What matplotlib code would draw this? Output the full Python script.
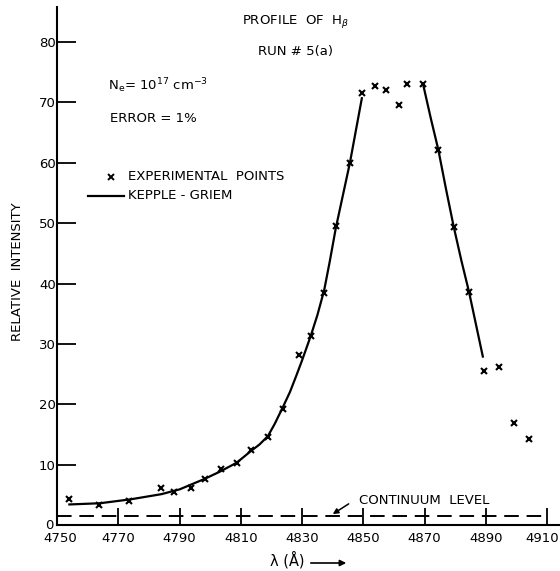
import matplotlib
matplotlib.use("Agg")
import matplotlib.pyplot as plt
from matplotlib.lines import Line2D
from matplotlib.transforms import ScaledTranslation

# ---- data ----
exp_wavelength = [4753.9, 4763.6, 4773.6, 4783.8, 4788.3, 4793.6, 4798.4, 4803.4,
                  4808.6, 4813.4, 4818.8, 4823.6, 4828.9, 4832.8, 4837.2, 4841.0,
                  4845.6, 4849.4, 4853.7, 4857.5, 4861.6, 4864.3, 4869.5, 4874.5,
                  4879.5, 4884.5, 4889.4, 4894.3, 4899.2, 4904.1]
exp_intensity = [4.25, 3.3, 4.0, 6.1, 5.5, 6.2, 7.6, 9.3,
                 10.3, 12.4, 14.5, 19.2, 28.1, 31.3, 38.5, 49.6,
                 60.0, 71.6, 72.8, 72.1, 69.6, 73.0, 73.0, 62.1,
                 49.4, 38.6, 25.5, 26.1, 16.9, 14.2]

kg_blue_wavelength = [4754.0, 4764.0, 4774.0, 4784.0, 4790.0, 4798.0, 4803.0, 4808.6,
                      4813.4, 4816.0, 4818.8, 4821.0, 4823.6, 4826.0, 4828.0, 4830.0,
                      4832.8, 4835.0, 4837.2, 4839.0, 4841.0, 4843.3, 4845.6, 4849.5]
kg_blue_intensity = [3.4, 3.6, 4.25, 5.1, 5.9, 7.6, 8.8, 10.3,
                     12.3, 13.3, 14.7, 16.7, 19.4, 22.0, 24.6, 27.3,
                     31.3, 34.8, 38.9, 43.6, 49.2, 54.6, 60.0, 70.7]
kg_red_wavelength = [4869.5, 4872.0, 4874.5, 4877.0, 4879.5, 4882.0, 4884.5, 4889.0]
kg_red_intensity = [73.0, 67.4, 62.1, 55.6, 49.4, 43.8, 38.6, 27.9]

continuum_level = 1.5
x_ticks = [4750, 4770, 4790, 4810, 4830, 4850, 4870, 4890, 4910]
y_ticks = [0, 10, 20, 30, 40, 50, 60, 70, 80]

W, H = 560, 571
fig = plt.figure(figsize=(W / 100, H / 100), dpi=100)
plt.rcParams['font.family'] = ['DejaVu Sans']
FS = 9.5


def fx(x):
    return x / W


def fy(y):
    return 1 - y / H


ax = fig.add_axes([0.102, 0.0806, 0.898, 0.907])
ax.set_xlim(4750, 4914.2)
ax.set_ylim(0, 85.8)

for s in ['top', 'right']:
    ax.spines[s].set_visible(False)
for s in ['left', 'bottom']:
    ax.spines[s].set_linewidth(1.5)

ax.set_xticks(x_ticks)
ax.set_yticks(y_ticks)
ax.tick_params(axis='x', direction='in', length=12, width=1.3, pad=5, labelsize=FS)
ax.tick_params(axis='y', direction='in', length=13.5, width=1.3, pad=1, labelsize=FS)
ax.xaxis.get_major_ticks()[0].tick1line.set_visible(False)
ax.yaxis.get_major_ticks()[0].tick1line.set_visible(False)

# nudge first/last x labels like the hand-lettered original
labels = ax.get_xticklabels()
labels[-1].set_transform(labels[-1].get_transform() + ScaledTranslation(-5 / 100, 0, fig.dpi_scale_trans))
labels[0].set_transform(labels[0].get_transform() + ScaledTranslation(3 / 100, 0, fig.dpi_scale_trans))
ylabels = ax.get_yticklabels()
ylabels[0].set_transform(ylabels[0].get_transform() + ScaledTranslation(-2 / 100, 1 / 100, fig.dpi_scale_trans))

# curves
ax.plot(kg_blue_wavelength, kg_blue_intensity, color='k', lw=1.6)
ax.plot(kg_red_wavelength, kg_red_intensity, color='k', lw=1.6)
ax.plot(exp_wavelength, exp_intensity, linestyle='none', marker='x', color='k',
        markersize=5, markeredgewidth=1.5)

# continuum level
ax.hlines(continuum_level, 4750, 4910, colors='k', linestyles=(0, (7.5, 4)), lw=1.4)
ax.text(4848.5, 4.0, 'CONTINUUM  LEVEL', fontsize=FS, ha='left', va='center')
ax.annotate('', xy=(4840.0, 1.8), xytext=(4845.2, 3.5),
            arrowprops=dict(arrowstyle='-|>', lw=1.1, color='k',
                            mutation_scale=8, shrinkA=0, shrinkB=0))

# annotations
fig.text(fx(242), fy(22), r'PROFILE  OF  H$_{\beta}$', fontsize=FS, ha='left', va='center')
fig.text(fx(258), fy(52), 'RUN # 5(a)', fontsize=FS, ha='left', va='center')
fig.text(fx(108), fy(86), r'N$_{\rm e}$= 10$^{17}$ cm$^{-3}$', fontsize=FS, ha='left', va='center')
fig.text(fx(110), fy(118), 'ERROR = 1%', fontsize=FS, ha='left', va='center')

# legend (hand drawn)
fig.add_artist(Line2D([fx(111)], [fy(177)], marker='x', color='k', markersize=4.5,
                      markeredgewidth=1.4, linestyle='none', transform=fig.transFigure))
fig.text(fx(128), fy(177), 'EXPERIMENTAL  POINTS', fontsize=FS, ha='left', va='center')
fig.add_artist(Line2D([fx(88), fx(124)], [fy(196), fy(196)], color='k', lw=1.6,
                      transform=fig.transFigure))
fig.text(fx(128), fy(196), 'KEPPLE - GRIEM', fontsize=FS, ha='left', va='center')

# axis labels
fig.text(fx(18), fy(272), 'RELATIVE  INTENSITY', fontsize=FS, rotation=90,
         ha='center', va='center')
fig.text(fx(270), fy(560), 'λ (Å)', fontsize=FS + 1, ha='left', va='center')
fig.add_artist(matplotlib.patches.FancyArrowPatch(
    (fx(308), fy(563)), (fx(349), fy(563)), transform=fig.transFigure,
    arrowstyle='-|>', mutation_scale=9, lw=1.2, color='k'))

fig.savefig('out.png', dpi=100)
